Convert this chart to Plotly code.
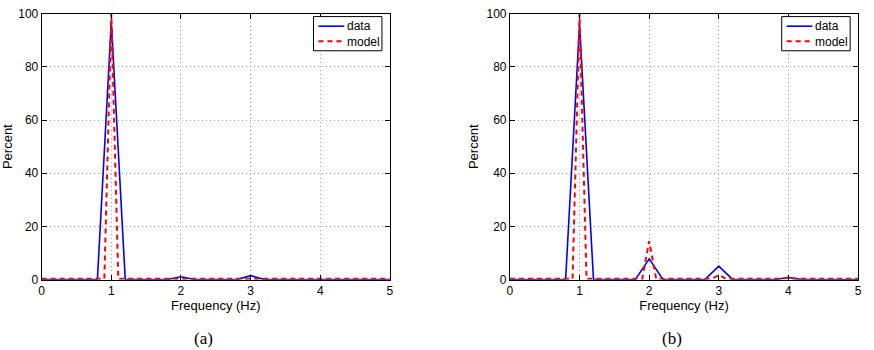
import plotly.graph_objects as go

# ---------------- data ----------------
freq_data = [0.0, 0.2, 0.4, 0.6, 0.8, 1.0, 1.2, 1.4, 1.6, 1.8, 2.0, 2.2, 2.4,
             2.6, 2.8, 3.0, 3.2, 3.4, 3.6, 3.8, 4.0, 4.2, 4.4, 4.6, 4.8, 5.0]
freq_model = [0.0, 0.1, 0.2, 0.3, 0.4, 0.5, 0.6, 0.7, 0.8, 0.9,
              1.0, 1.1, 1.2, 1.3, 1.4, 1.5, 1.6, 1.7, 1.8, 1.9,
              2.0, 2.1, 2.2, 2.3, 2.4, 2.5, 2.6, 2.7, 2.8, 2.9,
              3.0, 3.1, 3.2, 3.3, 3.4, 3.5, 3.6, 3.7, 3.8, 3.9,
              4.0, 4.1, 4.2, 4.3, 4.4, 4.5, 4.6, 4.7, 4.8, 4.9, 5.0]

# (a)
data_a = [0, 0, 0, 0, 0, 97, 0, 0, 0, 0, 1.1, 0, 0,
          0, 0, 1.5, 0, 0, 0, 0, 0, 0, 0, 0, 0, 0]
model_a = [0.3, 0.3, 0.3, 0.3, 0.3, 0.3, 0.3, 0.3, 0.3, 0.3,
           100, 0.3, 0.3, 0.3, 0.3, 0.3, 0.3, 0.3, 0.3, 0.3,
           0.3, 0.3, 0.3, 0.3, 0.3, 0.3, 0.3, 0.3, 0.3, 0.3,
           0.3, 0.3, 0.3, 0.3, 0.3, 0.3, 0.3, 0.3, 0.3, 0.3,
           0.3, 0.3, 0.3, 0.3, 0.3, 0.3, 0.3, 0.3, 0.3, 0.3, 0.3]

# (b)
data_b = [0, 0, 0, 0, 0, 96, 0, 0, 0, 0, 7.8, 0, 0,
          0, 0, 5.1, 0, 0, 0, 0, 0.8, 0, 0, 0, 0, 0]
model_b = [0.3, 0.3, 0.3, 0.3, 0.3, 0.3, 0.3, 0.3, 0.3, 0.3,
           100, 0.3, 0.3, 0.3, 0.3, 0.3, 0.3, 0.3, 0.3, 0.3,
           14.5, 0.3, 0.3, 0.3, 0.3, 0.3, 0.3, 0.3, 0.3, 0.3,
           1.8, 0.3, 0.3, 0.3, 0.3, 0.3, 0.3, 0.3, 0.3, 0.3,
           0.8, 0.3, 0.3, 0.3, 0.3, 0.3, 0.3, 0.3, 0.3, 0.3, 0.3]

series_names = ["data", "model"]
x_ticks = [0, 1, 2, 3, 4, 5]
y_ticks = [0, 20, 40, 60, 80, 100]
captions = ["(a)", "(b)"]

# ---------------- figure ----------------
W, H = 874, 350
FONT = "Liberation Sans, Arial, sans-serif"
BLUE = "#0000ff"
RED = "#ff0000"
RED_DASH = "5px,4px"
LEG_FS = 12
LEG_ROW = 1.3 * LEG_FS

fig = go.Figure()

panels = [
    dict(data=data_a, model=model_a, xa="x", ya="y", x0=39, x1=390, cap_x=202),
    dict(data=data_b, model=model_b, xa="x2", ya="y2", x0=511, x1=862, cap_x=674),
]

Y_TOP, Y_BOT = 7, 284
ydom = [1 - Y_BOT / H, 1 - Y_TOP / H]


def px(x):
    return x / W


def py(y):
    return 1 - y / H


for i, p in enumerate(panels):
    fig.add_trace(go.Scatter(x=freq_data, y=p["data"], mode="lines", name=series_names[0],
                             line=dict(color=BLUE, width=1.6),
                             xaxis=p["xa"], yaxis=p["ya"], showlegend=False))
    fig.add_trace(go.Scatter(x=freq_model, y=p["model"], mode="lines", name=series_names[1],
                             line=dict(color=RED, width=2, dash=RED_DASH),
                             xaxis=p["xa"], yaxis=p["ya"], showlegend=False))

    sfx = "" if i == 0 else str(i + 1)
    axcommon = dict(showline=True, linecolor="black", linewidth=1, mirror="ticks",
                    ticks="inside", ticklen=5, tickcolor="black",
                    showgrid=True, gridcolor="#a8a8a8", griddash="1px,3px", gridwidth=1,
                    zeroline=False, tickfont=dict(family=FONT, size=12, color="black"))
    fig.layout["xaxis" + sfx] = dict(axcommon, domain=[px(p["x0"]), px(p["x1"])], range=[0, 5],
                                     tickvals=x_ticks, anchor="y" + sfx,
                                     title=dict(text="Frequency (Hz)", standoff=2,
                                                font=dict(family=FONT, size=13, color="black")))
    fig.layout["yaxis" + sfx] = dict(axcommon, domain=ydom, range=[0, 100],
                                     tickvals=y_ticks, anchor="x" + sfx,
                                     title=dict(text="Percent", standoff=4,
                                                font=dict(family=FONT, size=13, color="black")))

    # compact MATLAB-style legend box in the upper-right corner
    lx1 = p["x1"] - 8
    lx0 = lx1 - 69
    ly0 = Y_TOP + 3
    row0 = ly0 + 10
    ly1 = row0 + LEG_ROW + 10
    fig.add_shape(type="rect", xref="paper", yref="paper",
                  x0=px(lx0), x1=px(lx1), y0=py(ly1), y1=py(ly0),
                  line=dict(color="black", width=1), fillcolor="white", layer="above")
    styles = [dict(color=BLUE, width=1.6), dict(color=RED, width=2, dash=RED_DASH)]
    for k in range(len(series_names)):
        yy = row0 + LEG_ROW * k
        fig.add_shape(type="line", xref="paper", yref="paper",
                      x0=px(lx0 + 5), x1=px(lx0 + 31), y0=py(yy), y1=py(yy),
                      line=styles[k], layer="above")
    fig.add_annotation(text="<br>".join(series_names), x=px(lx0 + 33),
                       y=py(row0 + LEG_ROW / 2), xref="paper", yref="paper",
                       showarrow=False, xanchor="left", yanchor="middle", align="left",
                       borderpad=0,
                       font=dict(family=FONT, size=LEG_FS, color="black"))

    fig.add_annotation(text=captions[i], x=px(p["cap_x"]),
                       y=py(345), xref="paper", yref="paper",
                       showarrow=False, xanchor="center", yanchor="middle",
                       font=dict(family="Liberation Serif, serif", size=17, color="black"))

fig.update_layout(width=W, height=H, margin=dict(l=0, r=0, t=0, b=0),
                  plot_bgcolor="white", paper_bgcolor="white",
                  font=dict(family=FONT, size=12, color="black"))

fig.write_html("out.html")
